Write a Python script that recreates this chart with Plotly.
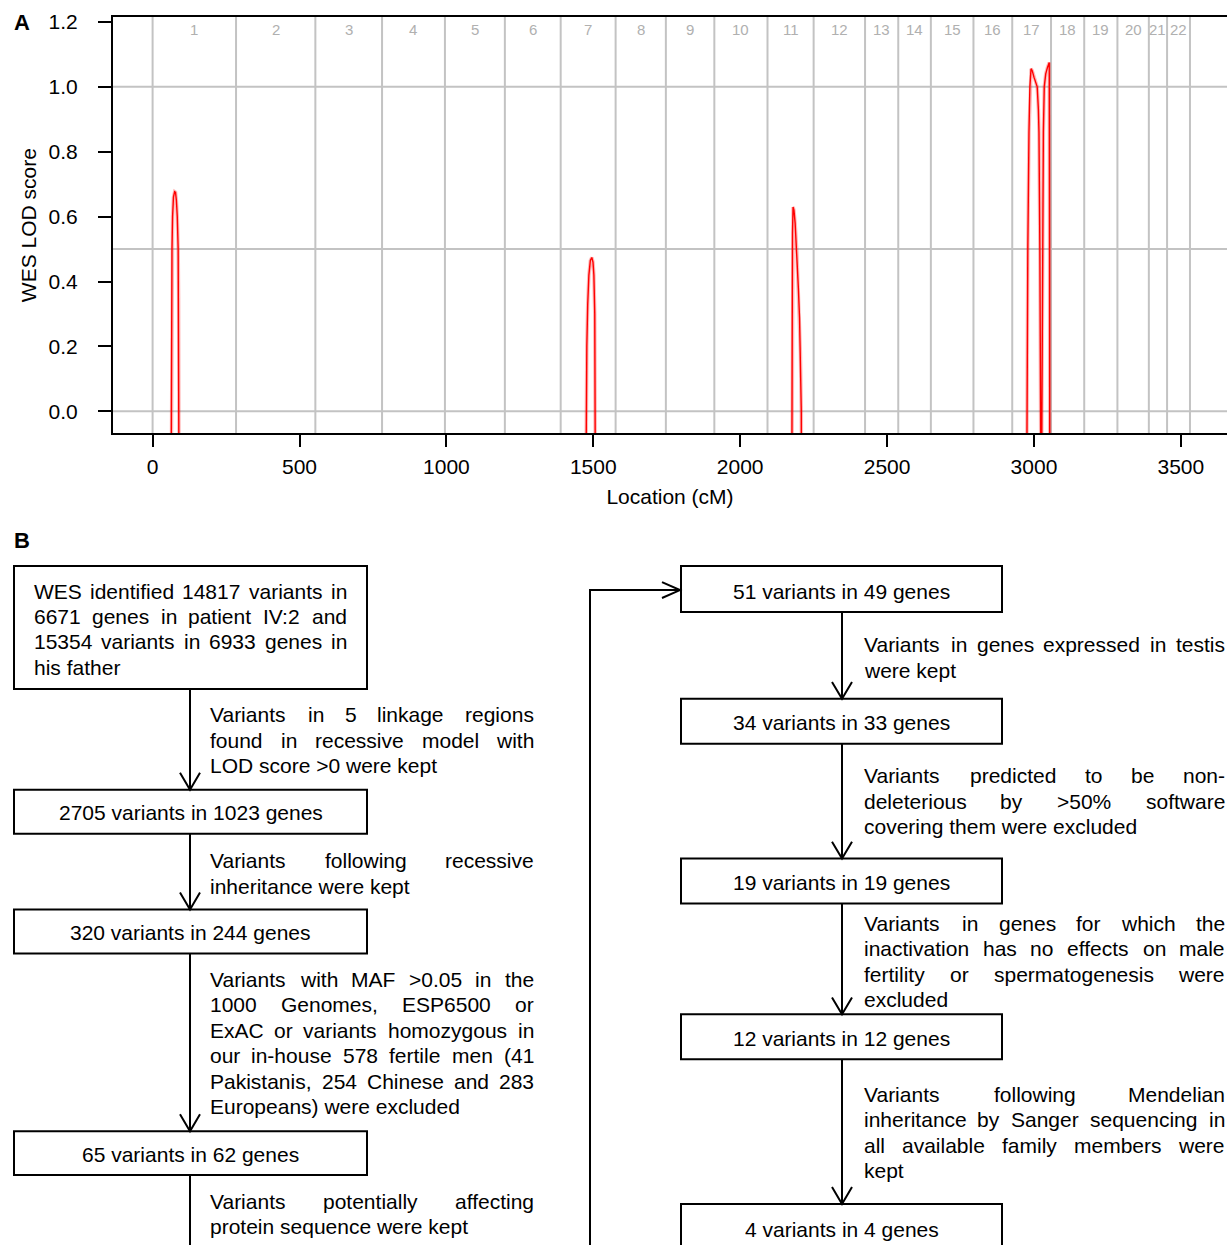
import plotly.graph_objects as go

W, H = 1227, 1245
FONT = "Liberation Sans, Arial, Helvetica, sans-serif"

# ---------------- Panel A data ----------------
chrom_names = [str(i) for i in range(1, 23)]
chrom_bounds_cm = [0, 284, 554, 781, 995, 1199, 1389, 1576, 1747, 1912, 2093,
                   2250, 2425, 2538, 2649, 2794, 2926, 3058, 3171, 3284, 3391,
                   3453, 3531]
lod_ref_lines = [0.0, 0.5, 1.0]
x_tick_vals = [0, 500, 1000, 1500, 2000, 2500, 3000, 3500]
y_tick_vals = [0.0, 0.2, 0.4, 0.6, 0.8, 1.0, 1.2]
y_tick_text = ["0.0", "0.2", "0.4", "0.6", "0.8", "1.0", "1.2"]

peak_chr1_cm = [62, 63.5, 65, 66, 68, 71, 75, 78, 81, 84, 87, 88.5, 90, 91]
peak_chr1_lod = [-0.5, 0.0, 0.35, 0.5, 0.6, 0.66, 0.677, 0.675, 0.65, 0.6,
                 0.5, 0.35, 0.0, -0.5]

peak_chr7_cm = [1473, 1475, 1478, 1481, 1485, 1490, 1495, 1499, 1502, 1505,
                1507, 1508]
peak_chr7_lod = [-0.5, 0.0, 0.2, 0.33, 0.42, 0.465, 0.474, 0.46, 0.42, 0.3,
                 0.1, -0.5]

peak_chr11_cm = [2175, 2176, 2177, 2178, 2180, 2183, 2187, 2193, 2198, 2202,
                 2205, 2208, 2209]
peak_chr11_lod = [-0.5, 0.0, 0.3, 0.55, 0.63, 0.62, 0.58, 0.49, 0.38, 0.29,
                  0.18, 0.0, -0.5]

peak_chr17_cm = [2974, 2976, 2979, 2983, 2986, 2990, 2994, 3000, 3006, 3011,
                 3015, 3017, 3020, 3023, 3025, 3027, 3029, 3032, 3035, 3040,
                 3046, 3052, 3053, 3054]
peak_chr17_lod = [-0.5, 0.0, 0.5, 0.86, 1.0, 1.056, 1.05, 1.03, 1.015, 1.0,
                  0.93, 0.86, 0.5, 0.0, -0.5, 0.0, 0.5, 0.86, 1.0, 1.04,
                  1.06, 1.075, 0.5, -0.5]

peaks = [(peak_chr1_cm, peak_chr1_lod), (peak_chr7_cm, peak_chr7_lod),
         (peak_chr11_cm, peak_chr11_lod), (peak_chr17_cm, peak_chr17_lod)]

# ---------------- Panel B data ----------------
box_texts = [
    ["WES identified 14817 variants in", "6671 genes in patient IV:2 and",
     "15354 variants in 6933 genes in", "his father"],
    ["2705 variants in 1023 genes"],
    ["320 variants in 244 genes"],
    ["65 variants in 62 genes"],
    ["51 variants in 49 genes"],
    ["34 variants in 33 genes"],
    ["19 variants in 19 genes"],
    ["12 variants in 12 genes"],
    ["4 variants in 4 genes"],
]
step_texts = [
    ["Variants in 5 linkage regions", "found in recessive model with",
     "LOD score >0 were kept"],
    ["Variants following recessive", "inheritance were kept"],
    ["Variants with MAF >0.05 in the", "1000 Genomes, ESP6500 or",
     "ExAC or variants homozygous in", "our in-house 578 fertile men (41",
     "Pakistanis, 254 Chinese and 283", "Europeans) were excluded"],
    ["Variants potentially affecting", "protein sequence were kept"],
    ["Variants in genes expressed in testis", "were kept"],
    ["Variants predicted to be non-", "deleterious by >50% software",
     "covering them were excluded"],
    ["Variants in genes for which the", "inactivation has no effects on male",
     "fertility or spermatogenesis were", "excluded"],
    ["Variants following Mendelian", "inheritance by Sanger sequencing in",
     "all available family members were", "kept"],
]

# ---------------- layout geometry (pixels) ----------------
box_geom = [(14, 367, 565, 688), (14, 367, 789, 833), (14, 367, 909, 953),
            (14, 367, 1131, 1175), (681, 1002, 565, 611), (681, 1002, 698, 743),
            (681, 1002, 858, 903), (681, 1002, 1014, 1059),
            (681, 1002, 1204, 1262)]
box_text_first_y = [589, 811, 931, 1153, 589, 721, 881, 1037, 1228]
box1_text_lr = (33.5, 347)
step_geom = [(210, 534, 713), (210, 534, 859), (210, 534, 978), (210, 534, 1200),
             (864, 1225, 643), (864, 1225, 774), (864, 1225, 922),
             (864, 1225, 1093)]
LINE_SP = 25.5
arrows = [(190, 688, 789, True), (190, 833, 909, True), (190, 953, 1131, True),
          (190, 1175, 1260, False), (842, 611, 698, True), (842, 743, 858, True),
          (842, 903, 1014, True), (842, 1059, 1204, True)]
FS = 21
YOFF = 1.0
# small vertical correction of the rendering pipeline (measured)
V_SHIFT, V_SCALE = 5.0, 0.996

lw = dict(zip("abcdefghijklmnopqrstuvwxyz",
              [556, 556, 500, 556, 556, 278, 556, 556, 222, 222, 500, 222, 833,
               556, 556, 556, 556, 333, 500, 278, 556, 500, 722, 500, 500, 500]))
uw = dict(zip("ABCDEFGHIJKLMNOPQRSTUVWXYZ",
              [667, 667, 722, 722, 667, 611, 778, 722, 278, 500, 667, 556, 833,
               722, 778, 667, 778, 722, 667, 611, 722, 667, 944, 667, 667, 611]))
cw = {**lw, **uw}
cw.update({c: 556 for c in "0123456789"})
cw.update({" ": 278, ",": 278, ".": 278, ":": 278, ";": 278, "-": 333,
           "(": 333, ")": 333, ">": 584, "<": 584, "%": 889})


def tw(s, fs=FS):
    return sum(cw.get(c, 556) for c in s) * fs / 1000.0


def px(x):
    return x / W


def py(y):
    return 1 - ((y - V_SHIFT) / V_SCALE) / H


fig = go.Figure()

# ---------------- Panel A ----------------
for cm, lod in peaks:
    fig.add_trace(go.Scatter(x=cm, y=lod, mode="lines",
                             line=dict(color="rgba(255,0,0,0.28)", width=3.5),
                             hoverinfo="skip", showlegend=False))
    fig.add_trace(go.Scatter(x=cm, y=lod, mode="lines",
                             line=dict(color="#ff0000", width=1.4),
                             showlegend=False))

shapes = []
for b in chrom_bounds_cm:
    shapes.append(dict(type="line", xref="x", yref="y domain", x0=b, x1=b,
                       y0=0, y1=1, layer="below",
                       line=dict(color="#c3c3c3", width=2)))
for v in lod_ref_lines:
    shapes.append(dict(type="line", xref="x domain", yref="y", x0=0, x1=1,
                       y0=v, y1=v, layer="below",
                       line=dict(color="#c3c3c3", width=2)))

annotations = []
for i, name in enumerate(chrom_names):
    mid = (chrom_bounds_cm[i] + chrom_bounds_cm[i + 1]) / 2
    annotations.append(dict(x=mid, xref="x", y=py(28), yref="paper",
                            text=name, showarrow=False,
                            font=dict(size=15, color="#b0b0b0", family=FONT),
                            xanchor="center", yanchor="middle",
                            borderpad=0, borderwidth=0))

annotations.append(dict(x=px(12), y=py(21), xref="paper", yref="paper",
                        text="<b>A</b>", showarrow=False, xanchor="left",
                        yanchor="middle", font=dict(size=22, family=FONT,
                                                    color="black")))
annotations.append(dict(x=px(12), y=py(539), xref="paper", yref="paper",
                        text="<b>B</b>", showarrow=False, xanchor="left",
                        yanchor="middle", font=dict(size=22, family=FONT,
                                                    color="black")))

# ---------------- Panel B ----------------
BLK = dict(color="black", width=2)
for (x0, x1, y0, y1) in box_geom:
    shapes.append(dict(type="rect", xref="paper", yref="paper",
                       x0=px(x0), x1=px(x1), y0=py(y0), y1=py(y1), line=BLK,
                       fillcolor="rgba(0,0,0,0)"))

for (x, y0, y1, head) in arrows:
    shapes.append(dict(type="line", xref="paper", yref="paper",
                       x0=px(x), x1=px(x), y0=py(y0), y1=py(y1), line=BLK))
    if head:
        path = "M {} {} L {} {} L {} {}".format(px(x - 10), py(y1 - 17),
                                               px(x), py(y1),
                                               px(x + 10), py(y1 - 17))
        shapes.append(dict(type="path", xref="paper", yref="paper",
                           path=path, line=BLK))

# connector from left column to right column
path = "M {} {} L {} {} L {} {}".format(px(590), py(1260), px(590), py(589),
                                       px(680), py(589))
shapes.append(dict(type="path", xref="paper", yref="paper", path=path,
                   line=BLK))
path = "M {} {} L {} {} L {} {}".format(px(662), py(581), px(680), py(589),
                                       px(662), py(597))
shapes.append(dict(type="path", xref="paper", yref="paper", path=path,
                   line=BLK))


def add_text(s, x, y, anchor):
    annotations.append(dict(x=px(x), y=py(y + YOFF), xref="paper",
                            yref="paper", text=s, showarrow=False,
                            xanchor=anchor, yanchor="middle",
                            borderpad=0, borderwidth=0,
                            font=dict(size=FS, family=FONT, color="black")))


def add_paragraph(lines, L, R, y0):
    for k, line in enumerate(lines):
        y = y0 + k * LINE_SP
        words = line.split(" ")
        if k == len(lines) - 1 or len(words) == 1:
            add_text(line, L, y, "left")
            continue
        widths = [tw(w) for w in words]
        gap = (R - L - sum(widths)) / (len(words) - 1)
        xx = L
        for j, (w, wd) in enumerate(zip(words, widths)):
            if j == 0:
                add_text(w, L, y, "left")
            elif j == len(words) - 1:
                add_text(w, R, y, "right")
            else:
                add_text(w, xx + wd / 2, y, "center")
            xx += wd + gap


for i, lines in enumerate(box_texts):
    x0, x1, y0, y1 = box_geom[i]
    if len(lines) > 1:
        add_paragraph(lines, box1_text_lr[0], box1_text_lr[1],
                      box_text_first_y[i])
    else:
        add_text(lines[0], (x0 + x1) / 2, box_text_first_y[i], "center")

for (L, R, y0), lines in zip(step_geom, step_texts):
    add_paragraph(lines, L, R, y0)

fig.update_layout(
    width=W, height=H, margin=dict(l=0, r=0, t=0, b=0),
    paper_bgcolor="white", plot_bgcolor="white",
    font=dict(family=FONT, size=FS, color="black"),
    showlegend=False,
    shapes=shapes, annotations=annotations,
    xaxis=dict(domain=[113 / W, 1.0], range=[-134.8, 3657],
               showline=True, linecolor="black", linewidth=2, mirror=True,
               ticks="outside", ticklen=12, tickwidth=2, tickcolor="black",
               tickvals=x_tick_vals, tickfont=dict(size=FS),
               ticklabelstandoff=1,
               showgrid=False, zeroline=False,
               title=dict(text="Location (cM)", font=dict(size=FS),
                          standoff=13)),
    yaxis=dict(domain=[py(432), py(15)], range=[-0.0677, 1.2154],
               showline=True, linecolor="black", linewidth=2, mirror=False,
               ticks="outside", ticklen=13, tickwidth=2, tickcolor="black",
               tickvals=y_tick_vals, ticktext=y_tick_text,
               tickfont=dict(size=FS), ticklabelstandoff=16,
               showgrid=False, zeroline=False,
               title=dict(text="WES LOD score", font=dict(size=FS),
                          standoff=6)),
)

fig.write_html(
    "out.html",
    config={"displayModeBar": False, "staticPlot": True},
    post_script=(
        "document.documentElement.style.margin='0';"
        "document.documentElement.style.overflow='hidden';"
        "document.body.style.margin='0';"
        "document.body.style.padding='0';"
        "document.body.style.overflow='hidden';"
        "var gd=document.getElementsByClassName('plotly-graph-div')[0];"
        "gd.style.position='absolute';gd.style.top='0px';gd.style.left='0px';"
    ),
)
